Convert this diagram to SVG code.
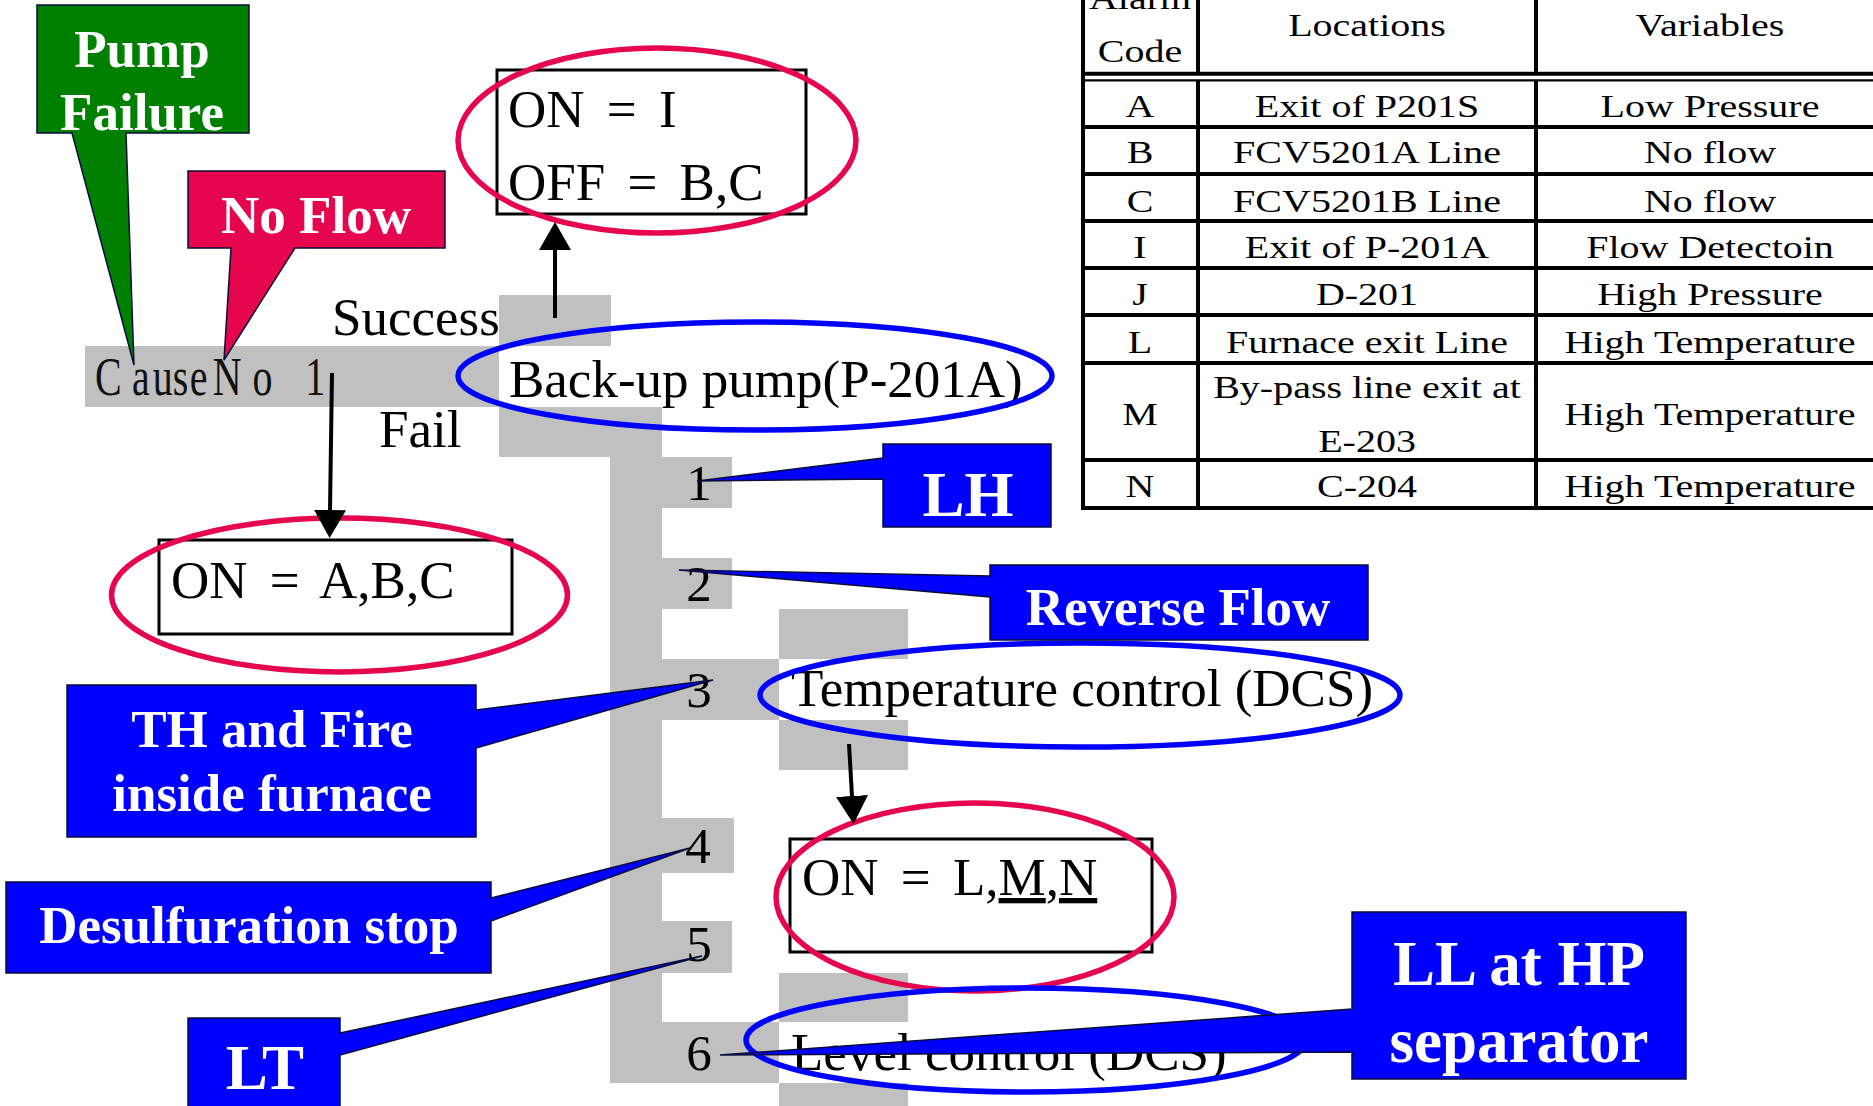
<svg xmlns="http://www.w3.org/2000/svg" width="1873" height="1106" viewBox="0 0 1873 1106">
<defs>
<style>
.bg{fill:#fff}
.gray{fill:#C0C0C0}
.t{font-family:"Liberation Serif","Times New Roman",serif;font-size:53px;fill:#000}
.eq{word-spacing:9px}
.num{font-family:"Liberation Serif","Times New Roman",serif;font-size:51px;fill:#000;text-anchor:middle}
.cb{font-family:"Liberation Serif","Times New Roman",serif;font-weight:bold;font-size:53px;fill:#fff;text-anchor:middle}
.cbl{font-family:"Liberation Serif","Times New Roman",serif;font-weight:bold;font-size:63px;fill:#fff;text-anchor:middle}
.call{stroke:#0B0B3B;stroke-width:1.5;stroke-linejoin:miter}
.green{fill:#008000}
.red{fill:#E6064E}
.blue{fill:#0000FF}
.box{fill:#fff;stroke:#000;stroke-width:3}
.ered{fill:none;stroke:#E6064E;stroke-width:5.5}
.eblue{fill:none;stroke:#0000FF;stroke-width:5.5}
.arr{stroke:#000;stroke-width:4;fill:none;marker-end:url(#ah)}
.tt{font-family:"Liberation Serif","Times New Roman",serif;font-size:32px;fill:#000;text-anchor:middle}
.tl{stroke:#000;stroke-width:4;fill:none}
</style>
<marker id="ah" markerUnits="userSpaceOnUse" markerWidth="28" markerHeight="32" viewBox="0 0 28 32" refX="0" refY="16" orient="auto"><path d="M0,0 L28,16 L0,32 z" fill="#000"/></marker>
</defs>
<rect class="bg" x="0" y="0" width="1873" height="1106"/>

<g id="tree-background">
<rect class="gray" x="85" y="346" width="414" height="61"/>
<rect class="gray" x="499" y="295" width="112" height="51"/>
<rect class="gray" x="499" y="407" width="163" height="50"/>
<rect class="gray" x="610" y="457" width="52" height="626"/>
<rect class="gray" x="661" y="457" width="71" height="51"/>
<rect class="gray" x="661" y="558" width="71" height="51"/>
<rect class="gray" x="661" y="659" width="118" height="61"/>
<rect class="gray" x="779" y="609" width="129" height="50"/>
<rect class="gray" x="779" y="720" width="129" height="50"/>
<rect class="gray" x="661" y="818" width="73" height="55"/>
<rect class="gray" x="661" y="921" width="71" height="52"/>
<rect class="gray" x="661" y="1022" width="118" height="61"/>
<rect class="gray" x="779" y="973" width="129" height="49"/>
<rect class="gray" x="779" y="1083" width="129" height="23"/>
</g>

<g id="cause">
<text transform="translate(95,395) scale(0.74,1)" x="0 50 78 105 128 159 213 250 284" y="0" style="font-family:'Liberation Serif','Times New Roman',serif;font-size:54px;fill:#111">CauseNo 1</text>
</g>

<g id="labels">
<text class="t" x="332" y="335">Success</text>
<text class="t" x="379" y="447">Fail</text>
</g>

<g id="numbers">
<text class="num" x="699" y="500">1</text>
<text class="num" x="699" y="601">2</text>
<text class="num" x="699" y="707">3</text>
<text class="num" x="698" y="863">4</text>
<text class="num" x="699" y="961">5</text>
<text class="num" x="699" y="1070">6</text>
</g>

<g id="backup-pump">
<text class="t" x="509" y="397">Back-up pump(P-201A)</text>
<ellipse class="eblue" cx="755" cy="376" rx="297" ry="54"/>
</g>

<g id="on-i-off-bc">
<rect class="box" x="497" y="70" width="309" height="144"/>
<text class="t eq" x="508" y="127">ON = I</text>
<text class="t eq" x="508" y="200">OFF = B,C</text>
<ellipse class="ered" cx="657" cy="140.5" rx="199" ry="92.5"/>
</g>

<g id="on-abc">
<rect class="box" x="159" y="540" width="353" height="94"/>
<text class="t eq" x="171" y="598">ON = A,B,C</text>
<ellipse class="ered" cx="339.5" cy="595" rx="228" ry="77"/>
</g>

<g id="temperature-control">
<text class="t" x="791" y="706">Temperature control (DCS)</text>
<ellipse class="eblue" cx="1080" cy="695" rx="320" ry="52"/>
</g>

<g id="on-lmn">
<rect class="box" x="790" y="839" width="362" height="113"/>
<text class="t eq" x="802" y="895">ON = L,<tspan style="text-decoration:underline">M</tspan>,<tspan style="text-decoration:underline">N</tspan></text>
<ellipse class="ered" cx="975" cy="897" rx="199" ry="94"/>
</g>

<g id="level-control">
<text class="t" x="791" y="1070">Level control (DCS)</text>
<ellipse class="eblue" cx="1026" cy="1040" rx="280" ry="52"/>
</g>

<g id="connectors">
<path class="arr" d="M555,318 L555,250"/>
<path class="arr" d="M332,373 L330,510"/>
<path class="arr" d="M849,744 L852,796"/>
</g>

<g id="callout-pump-failure">
<polygon class="call green" points="37,5 249,5 249,133 126,133 134,365 72,133 37,133"/>
<text class="cb" x="142" y="67">Pump</text>
<text class="cb" x="142" y="130">Failure</text>
</g>

<g id="callout-no-flow">
<polygon class="call red" points="188,171 445,171 445,248 295,248 224,360 231,248 188,248"/>
<text class="cb" x="316" y="233">No Flow</text>
</g>

<g id="callout-lh">
<polygon class="call blue" points="883,444 1051,444 1051,527 883,527 883,479 697,481 883,458"/>
<text class="cbl" x="968" y="516">LH</text>
</g>

<g id="callout-reverse-flow">
<polygon class="call blue" points="990,565 1368,565 1368,640 990,640 990,597 679,570 990,576"/>
<text class="cb" x="1178" y="625">Reverse Flow</text>
</g>

<g id="callout-th-fire">
<polygon class="call blue" points="67,685 476,685 476,710 713,680 476,748 476,837 67,837"/>
<text class="cb" x="272" y="747">TH and Fire</text>
<text class="cb" x="272" y="811">inside furnace</text>
</g>

<g id="callout-desulfuration">
<polygon class="call blue" points="6,882 491,882 491,898 690,848 491,921 491,973 6,973"/>
<text class="cb" x="249" y="943">Desulfuration stop</text>
</g>

<g id="callout-lt">
<polygon class="call blue" points="188,1018 340,1018 340,1033 702,956 340,1055 340,1112 188,1112"/>
<text class="cbl" x="265" y="1089">LT</text>
</g>

<g id="callout-ll-hp">
<polygon class="call blue" points="1352,912 1686,912 1686,1079 1352,1079 1352,1052 720,1055 1352,1009"/>
<text class="cbl" x="1519" y="985">LL at HP</text>
<text class="cbl" x="1519" y="1062">separator</text>
</g>

<g id="alarm-table">
<line class="tl" x1="1083" y1="0" x2="1083" y2="510"/>
<line class="tl" x1="1198" y1="0" x2="1198" y2="75"/>
<line class="tl" x1="1536" y1="0" x2="1536" y2="75"/>
<line class="tl" x1="1198" y1="80" x2="1198" y2="510"/>
<line class="tl" x1="1536" y1="80" x2="1536" y2="510"/>
<line class="tl" x1="1081" y1="73.7" x2="1873" y2="73.7"/>
<line style="stroke:#000;stroke-width:2.2" x1="1081" y1="80.3" x2="1873" y2="80.3"/>
<line class="tl" x1="1081" y1="127" x2="1873" y2="127"/>
<line class="tl" x1="1081" y1="174" x2="1873" y2="174"/>
<line class="tl" x1="1081" y1="221" x2="1873" y2="221"/>
<line class="tl" x1="1081" y1="268" x2="1873" y2="268"/>
<line class="tl" x1="1081" y1="315" x2="1873" y2="315"/>
<line class="tl" x1="1081" y1="363" x2="1873" y2="363"/>
<line class="tl" x1="1081" y1="460" x2="1873" y2="460"/>
<line class="tl" x1="1081" y1="508" x2="1873" y2="508"/>
<text class="tt" transform="translate(1140,9) scale(1.25,1)">Alarm</text>
<text class="tt" transform="translate(1140,62) scale(1.25,1)">Code</text>
<text class="tt" transform="translate(1367,36) scale(1.25,1)">Locations</text>
<text class="tt" transform="translate(1710,36) scale(1.25,1)">Variables</text>
<text class="tt" transform="translate(1140,117) scale(1.25,1)">A</text>
<text class="tt" transform="translate(1367,117) scale(1.25,1)">Exit of P201S</text>
<text class="tt" transform="translate(1710,117) scale(1.25,1)">Low Pressure</text>
<text class="tt" transform="translate(1140,163) scale(1.25,1)">B</text>
<text class="tt" transform="translate(1367,163) scale(1.25,1)">FCV5201A Line</text>
<text class="tt" transform="translate(1710,163) scale(1.25,1)">No flow</text>
<text class="tt" transform="translate(1140,212) scale(1.25,1)">C</text>
<text class="tt" transform="translate(1367,212) scale(1.25,1)">FCV5201B Line</text>
<text class="tt" transform="translate(1710,212) scale(1.25,1)">No flow</text>
<text class="tt" transform="translate(1140,258) scale(1.25,1)">I</text>
<text class="tt" transform="translate(1367,258) scale(1.25,1)">Exit of P-201A</text>
<text class="tt" transform="translate(1710,258) scale(1.25,1)">Flow Detectoin</text>
<text class="tt" transform="translate(1140,305) scale(1.25,1)">J</text>
<text class="tt" transform="translate(1367,305) scale(1.25,1)">D-201</text>
<text class="tt" transform="translate(1710,305) scale(1.25,1)">High Pressure</text>
<text class="tt" transform="translate(1140,353) scale(1.25,1)">L</text>
<text class="tt" transform="translate(1367,353) scale(1.25,1)">Furnace exit Line</text>
<text class="tt" transform="translate(1710,353) scale(1.25,1)">High Temperature</text>
<text class="tt" transform="translate(1140,425) scale(1.25,1)">M</text>
<text class="tt" transform="translate(1367,398) scale(1.25,1)">By-pass line exit at</text>
<text class="tt" transform="translate(1367,452) scale(1.25,1)">E-203</text>
<text class="tt" transform="translate(1710,425) scale(1.25,1)">High Temperature</text>
<text class="tt" transform="translate(1140,497) scale(1.25,1)">N</text>
<text class="tt" transform="translate(1367,497) scale(1.25,1)">C-204</text>
<text class="tt" transform="translate(1710,497) scale(1.25,1)">High Temperature</text>
</g>
</svg>
